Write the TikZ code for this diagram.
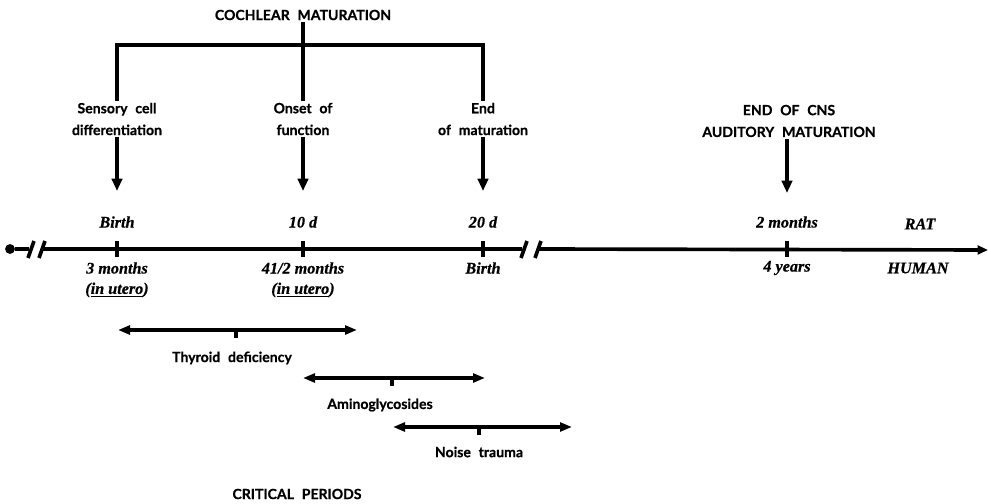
\documentclass[tikz,border=0pt]{standalone}
\usepackage{fontspec}
\setmainfont{Lato}[BoldFeatures={FakeBold=0.6}]
\newfontfamily\datefont{Liberation Serif}[BoldItalicFeatures={FakeBold=0.6}]
\usetikzlibrary{arrows.meta}
\newcommand\widewords{\spaceskip 0.55em plus 0.1em\relax}

\begin{document}
\begin{tikzpicture}[x=0.025cm, y=-0.025cm,
    label/.style={font=\bfseries\fontsize{10}{15.5}\selectfont\widewords,
                  align=center, inner sep=1pt},
    datum/.style={font=\datefont\bfseries\itshape\fontsize{11.5}{12}\selectfont,
                  inner sep=1pt},
    heavy/.style={line width=2.6pt},
    down/.style={line width=3pt, -{Triangle[length=3.1mm, width=2.6mm]}},
    span/.style={line width=2.4pt,
                 {Triangle[length=3mm, width=2.2mm]}-{Triangle[length=3mm, width=2.2mm]}}
  ]
    \useasboundingbox (0,0) rectangle (988,504);

    % cochlear maturation bracket
    \node[label] (coch) at (303,15) {COCHLEAR MATURATION};
    \node[label] (sens) at (117,119) {Sensory cell\\differentiation};
    \node[label] (ons)  at (303,119) {Onset of\\function};
    \node[label] (endm) at (483,119) {End\\of maturation};
    \node[label] (cns)  at (789,121) {END OF CNS\\AUDITORY MATURATION};
    \coordinate (bar) at (303,45);
    \draw[heavy] (sens.north) |- (bar) -| (endm.north);
    \draw[heavy] (coch.south) -- (ons.north);

    % the time axis
    \node[circle, fill, inner sep=0pt, minimum size=7pt] (orig) at (10,249) {};
    \coordinate (brk1) at (29,249);
    \coordinate (go1)  at (43,249);
    \coordinate (brk2) at (522,249);
    \coordinate (go2)  at (539,249);
    \coordinate (tend) at (988,250);
    \draw[heavy] (orig) -- (brk1);
    \draw[heavy] (go1) -- (brk2);
    \draw[heavy, -{Triangle[length=2.6mm, width=2.2mm]}] (go2) -- (tend);
    \foreach \x in {31,42,524,538}
      \draw[heavy] (\x-3,258) -- (\x+3,241);
    \foreach \x/\n in {117/t1, 303/t2, 483/t3, 787/t4} {
      \coordinate (\n) at (\x,249);
      \draw[heavy] (\x,241) -- (\x,257);
    }

    % arrows onto the axis
    \coordinate (a1) at (117,191);
    \coordinate (a2) at (303,191);
    \coordinate (a3) at (483,191);
    \coordinate (a4) at (787,193);
    \draw[down] (sens.south) -- (a1);
    \draw[down] (ons.south)  -- (a2);
    \draw[down] (endm.south) -- (a3);
    \draw[down] (cns.south -| a4) -- (a4);

    % rat ages (above) and human ages (below)
    \node[datum] (rbirth) at (117,222) {Birth};
    \node[datum] (r10)    at (303,222) {10 d};
    \node[datum] (r20)    at (483,222) {20 d};
    \node[datum] (r2m)    at (787,222) {2 months};
    \node[datum] (rat)    at (920,224) {RAT};
    \node[datum] (h3m)    at (117,268) {3 months};
    \node[datum] (h3u)    at (117,290) {(\underline{in utero})};
    \node[datum] (h4m)    at (303,268) {41/2 months};
    \node[datum] (h4u)    at (303,290) {(\underline{in utero})};
    \node[datum] (hbirth) at (483,268) {Birth};
    \node[datum] (h4y)    at (787,268) {4 years};
    \node[datum] (human)  at (918,268) {HUMAN};

    % critical periods
    \coordinate (thyL) at (118,330);
    \coordinate (thyR) at (357,330);
    \coordinate (amiL) at (303,378);
    \coordinate (amiR) at (485,378);
    \coordinate (noiL) at (393,427);
    \coordinate (noiR) at (572,427);
    \draw[span] (thyL) -- (thyR);
    \draw[span] (amiL) -- (amiR);
    \draw[span] (noiL) -- (noiR);
    \foreach \x/\y in {236/330, 392/378, 479/427}
      \draw[line width=2.4pt] (\x,\y) -- (\x,\y+8);
    \node[label] (thy)   at (232,358) {Thyroid deficiency};
    \node[label] (amino) at (380,405) {Aminoglycosides};
    \node[label] (noise) at (479,452) {Noise trauma};
    \node[label] (crit)  at (297,494) {CRITICAL PERIODS};
  \end{tikzpicture}
\end{document}
